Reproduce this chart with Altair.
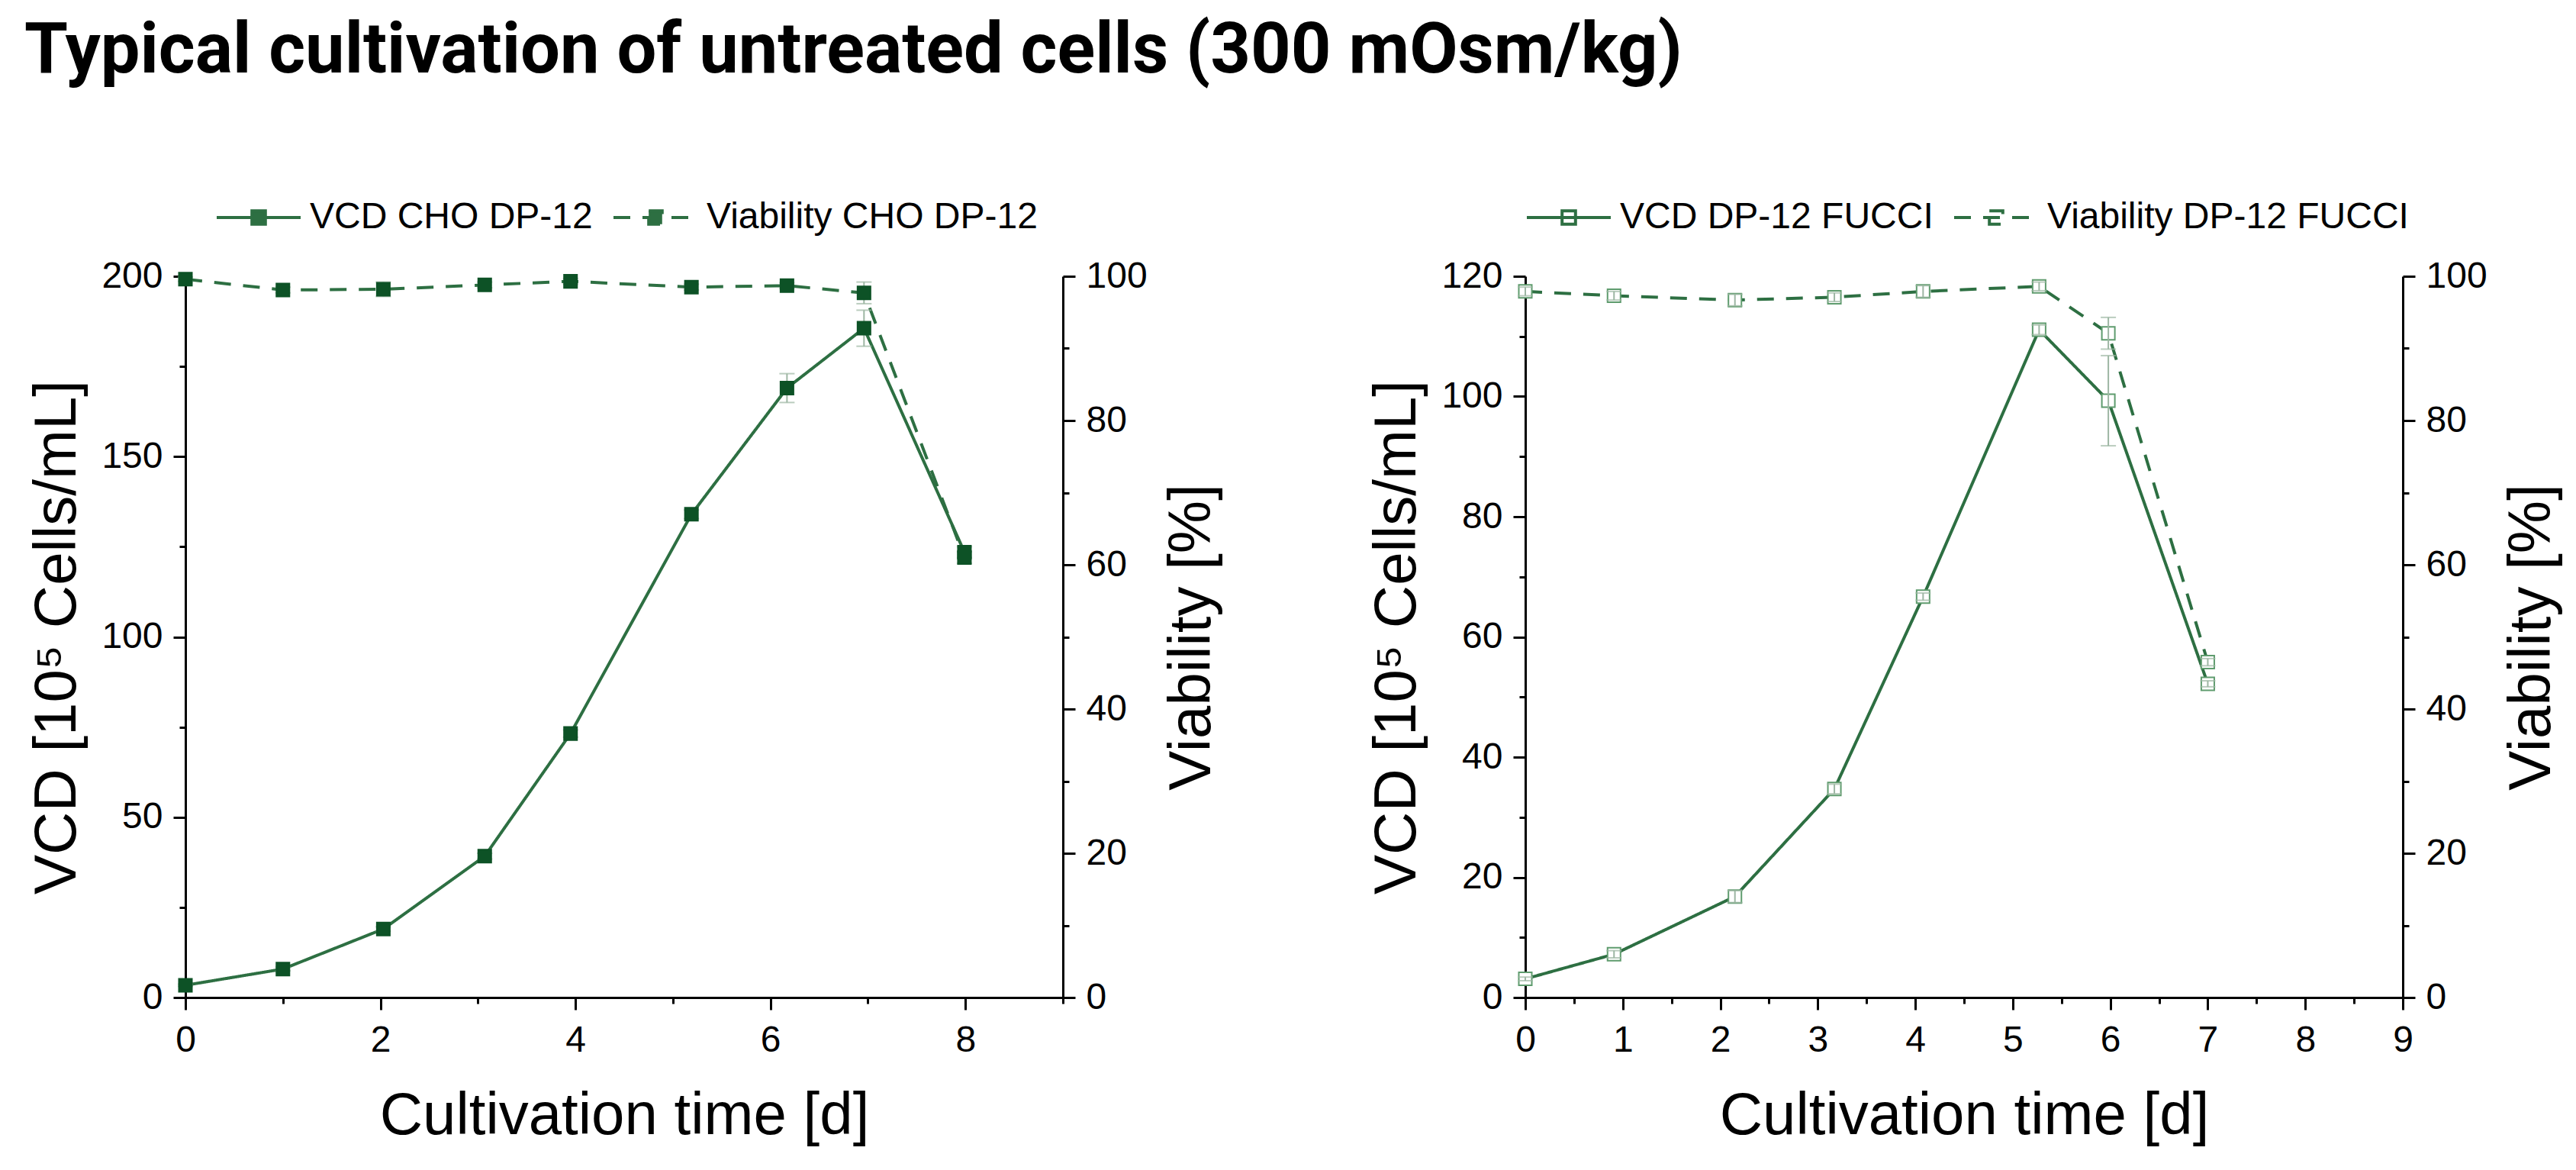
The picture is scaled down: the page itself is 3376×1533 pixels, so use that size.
import altair as alt
import pandas as pd

# ---------------- data ----------------
# Left panel: CHO DP-12
cho_days = [0.0, 1.0, 2.03, 3.07, 3.95, 5.19, 6.17, 6.96, 7.99]
cho_vcd = [3.4, 7.9, 19.0, 39.2, 73.2, 134.0, 169.0, 185.6, 123.5]
cho_vcd_err = [0.3, 0.5, 0.6, 0.8, 1.0, 1.2, 4.0, 5.0, 1.5]
cho_via = [99.6, 98.1, 98.2, 98.8, 99.3, 98.5, 98.7, 97.7, 61.0]
cho_via_err = [0.3, 0.4, 1.0, 0.4, 0.4, 0.4, 0.4, 1.5, 0.8]

# Right panel: DP-12 FUCCI
fucci_days = [0.0, 0.91, 2.15, 3.17, 4.08, 5.27, 5.98, 7.0]
fucci_vcd = [3.1, 7.2, 16.8, 34.7, 66.7, 111.1, 99.3, 52.2]
fucci_vcd_err = [0.3, 0.6, 1.0, 0.8, 0.6, 0.8, 7.5, 0.5]
fucci_via = [97.9, 97.3, 96.7, 97.1, 97.9, 98.6, 92.1, 46.5]
fucci_via_err = [0.6, 0.6, 0.8, 0.6, 0.8, 0.6, 2.2, 0.5]

cho_labels = ["VCD CHO DP-12", "Viability CHO DP-12"]
fucci_labels = ["VCD DP-12 FUCCI", "Viability DP-12 FUCCI"]

cho_y_major = [0, 50, 100, 150, 200]
cho_y_minor = [25, 75, 125, 175]
cho_x_major = [0, 2, 4, 6, 8]
cho_x_minor = [1, 3, 5, 7, 9]

fucci_y_major = [0, 20, 40, 60, 80, 100, 120]
fucci_y_minor = [10, 30, 50, 70, 90, 110]
fucci_x_major = [0, 1, 2, 3, 4, 5, 6, 7, 8, 9]
fucci_x_minor = [0.5, 1.5, 2.5, 3.5, 4.5, 5.5, 6.5, 7.5, 8.5]

via_major_ticks = [0, 20, 40, 60, 80, 100]
via_minor_ticks = [10, 30, 50, 70, 90]

TITLE = "Typical cultivation of untreated cells (300 mOsm/kg)"
X_TITLE = "Cultivation time [d]"
Y_TITLE = "VCD [10\u2075 Cells/mL]"
Y2_TITLE = "Viability [%]"

# ---------------- styling ----------------
FONT = "Liberation Sans"
LINE = "#2d6f42"
ERR = "#9db6a3"
W, H = 1150, 945
LEGEND_PATH = "M-1,0H1M-0.16,-0.16H0.16V0.16H-0.16Z"


def panel(days, vcd, vcd_err, via, via_err, labels, vmax, y_major, y_minor,
          x_major, x_minor, marker_fill, marker_stroke, legend_fill, legend_x,
          bars_on_top):
    df = pd.DataFrame({
        "t": days,
        "vcd": vcd,
        "vcd_lo": [v - e for v, e in zip(vcd, vcd_err)],
        "vcd_hi": [v + e for v, e in zip(vcd, vcd_err)],
        "via": via,
        "via_lo": [v - e for v, e in zip(via, via_err)],
        "via_hi": [v + e for v, e in zip(via, via_err)],
    })
    base = alt.Chart(df)
    xs = alt.Scale(domain=[0, 9], nice=False, zero=False)
    sv = alt.Scale(domain=[0, vmax], nice=False, zero=False)
    sp = alt.Scale(domain=[0, 100], nice=False, zero=False)
    dash_scale = alt.Scale(domain=labels, range=[[1, 0], [22, 16]])
    leg = alt.Legend(
        title=None, orient="none", legendX=legend_x, legendY=-134,
        direction="horizontal", columns=2,
        symbolType=LEGEND_PATH, symbolSize=12100, symbolStrokeWidth=4,
        symbolFillColor=legend_fill, symbolOffset=0,
        labelFont=FONT, labelFontSize=48, labelColor="black",
        labelLimit=2000, labelOffset=10, columnPadding=19, padding=0,
    )
    x_none = alt.X("t:Q", scale=xs, axis=None)

    vcd_line = base.transform_calculate(series=f"'{labels[0]}'").mark_line(
        color=LINE, strokeWidth=4
    ).encode(
        x=alt.X("t:Q", scale=xs, axis=alt.Axis(orient="bottom", values=x_major,
                                               title=X_TITLE, titlePadding=36,
                                               labelPadding=16)),
        y=alt.Y("vcd:Q", scale=sv, axis=alt.Axis(orient="left", values=y_major,
                                                 title=Y_TITLE, titlePadding=18)),
        strokeDash=alt.StrokeDash("series:N", scale=dash_scale, legend=leg),
    )
    vcd_minor_layer = base.mark_point(opacity=0).encode(
        x=alt.X("t:Q", scale=xs, axis=alt.Axis(orient="bottom", values=x_minor,
                                               labels=False, domain=False,
                                               tickSize=8, title=None)),
        y=alt.Y("vcd:Q", scale=sv, axis=alt.Axis(orient="left", values=y_minor,
                                                 labels=False, domain=False,
                                                 tickSize=8, title=None)),
    )
    via_line = base.transform_calculate(series=f"'{labels[1]}'").mark_line(
        color=LINE, strokeWidth=4
    ).encode(
        x=x_none,
        y=alt.Y("via:Q", scale=sp, axis=alt.Axis(orient="right", values=via_major_ticks,
                                                 title=Y2_TITLE, titleAngle=270,
                                                 titleBaseline="top",
                                                 titlePadding=20)),
        strokeDash=alt.StrokeDash("series:N", scale=dash_scale, legend=leg),
    )
    via_minor_layer = base.mark_point(opacity=0).encode(
        x=x_none,
        y=alt.Y("via:Q", scale=sp, axis=alt.Axis(orient="right", values=via_minor_ticks,
                                                 labels=False, domain=False,
                                                 tickSize=8, title=None)),
    )

    def pts(field, scale):
        return base.mark_point(shape="square", size=290, filled=True, fill=marker_fill,
                               stroke=marker_stroke, strokeWidth=2, opacity=1).encode(
            x=x_none, y=alt.Y(f"{field}:Q", scale=scale, axis=None))

    def errbars(field, scale):
        rule = base.mark_rule(color=ERR, strokeWidth=2).encode(
            x=x_none,
            y=alt.Y(f"{field}_lo:Q", scale=scale, axis=None),
            y2=f"{field}_hi:Q",
        )
        lo = base.mark_tick(orient="horizontal", size=20, thickness=2, color=ERR).encode(
            x=x_none, y=alt.Y(f"{field}_lo:Q", scale=scale, axis=None))
        hi = base.mark_tick(orient="horizontal", size=20, thickness=2, color=ERR).encode(
            x=x_none, y=alt.Y(f"{field}_hi:Q", scale=scale, axis=None))
        return [rule, lo, hi]

    axes_lines = [vcd_line, vcd_minor_layer, via_line, via_minor_layer]
    points = [pts("vcd", sv), pts("via", sp)]
    bars = errbars("vcd", sv) + errbars("via", sp)
    layers = axes_lines + (points + bars if bars_on_top else bars + points)
    return alt.layer(*layers).resolve_scale(y="independent").resolve_axis(
        x="independent", y="independent").properties(width=W, height=H)


left = panel(cho_days, cho_vcd, cho_vcd_err, cho_via, cho_via_err, cho_labels, 200,
             cho_y_major, cho_y_minor, cho_x_major, cho_x_minor,
             marker_fill="#0d5226", marker_stroke="#0d5226", legend_fill=LINE,
             legend_x=39, bars_on_top=False)
right = panel(fucci_days, fucci_vcd, fucci_vcd_err, fucci_via, fucci_via_err, fucci_labels, 120,
              fucci_y_major, fucci_y_minor, fucci_x_major, fucci_x_minor,
              marker_fill="white", marker_stroke="#5f9c6e", legend_fill="white",
              legend_x=0, bars_on_top=True)

chart = alt.hconcat(left, right, spacing=190).resolve_scale(
    strokeDash="independent").resolve_legend(strokeDash="independent").properties(
    title=alt.TitleParams(TITLE, font="Roboto", fontWeight="bold", fontSize=92,
                          color="black", anchor="start", offset=114, dx=-5),
    padding={"left": 23, "top": 13, "right": 5, "bottom": 5},
).configure_view(stroke=None).configure_axis(
    labelFont=FONT, labelFontSize=48, labelColor="black",
    titleFont=FONT, titleFontSize=78, titleFontWeight="normal", titleColor="black",
    domainColor="black", domainWidth=3, tickColor="black", tickWidth=3, tickSize=16,
    labelPadding=14, grid=False, labelFlush=False,
)

chart.save("out.html", embed_options={"renderer": "svg", "actions": False})
